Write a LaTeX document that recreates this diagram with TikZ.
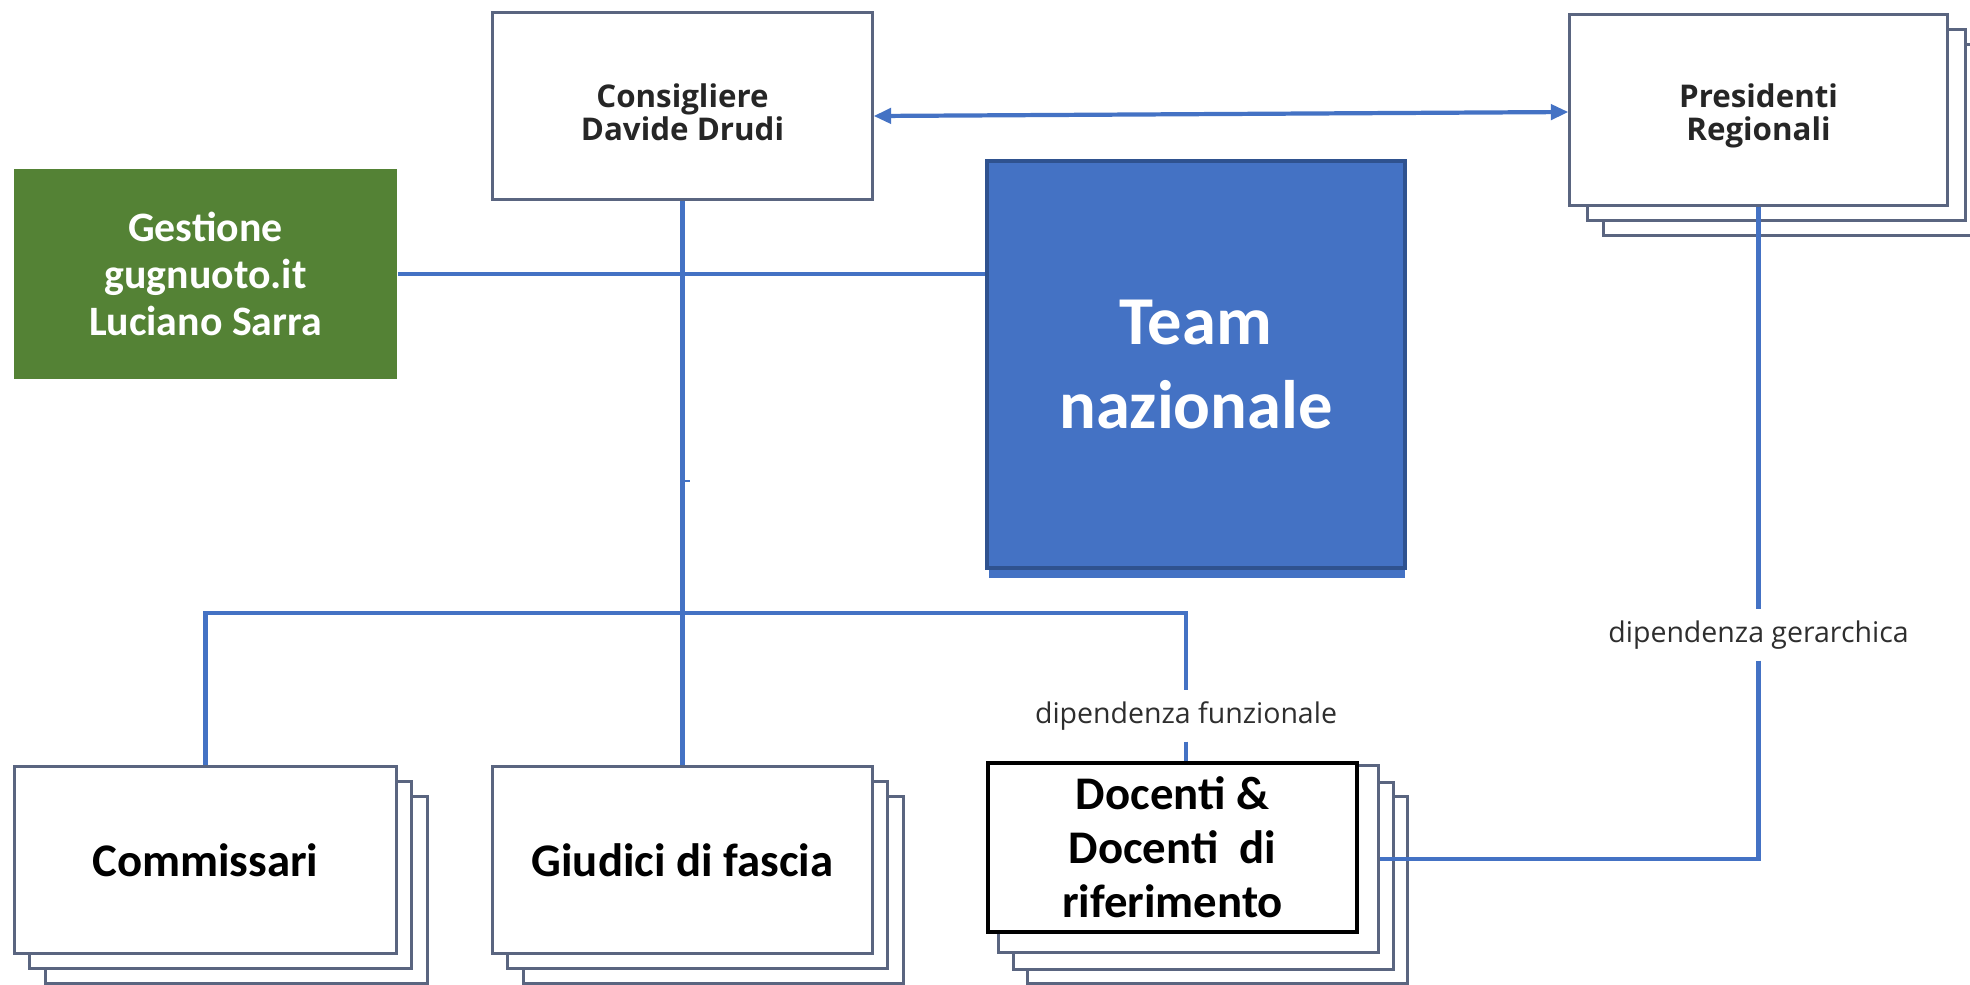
\documentclass[tikz,border=0pt]{standalone}
\usepackage{fontspec}
\setmainfont{Carlito}
\newfontfamily\osans{Open Sans}
\usetikzlibrary{arrows.meta,calc}
\definecolor{linkc}{HTML}{4472C4}
\definecolor{boxc}{HTML}{5A6580}
\definecolor{teamc}{HTML}{4472C4}
\definecolor{teamb}{HTML}{2F528F}
\definecolor{greenc}{HTML}{548235}
\begin{document}
\begin{tikzpicture}[x=0.01cm,y=-0.01cm,
  sheet/.style={draw=boxc,line width=0.85pt,fill=white,inner sep=0pt,minimum width=3.79cm,minimum height=1.86cm},
  link/.style={draw=linkc,line width=1.2pt},
  big/.style={font=\bfseries\fontsize{13.3}{15.4}\selectfont,align=center},
  small/.style={font=\osans\bfseries\fontsize{8.9}{9.4}\selectfont,align=center,text=black!85},
  lab/.style={font=\osans\fontsize{8.1}{9}\selectfont,text=black!82,inner sep=0pt,minimum height=0.5cm}
]
\useasboundingbox[fill=white] (0,0) rectangle (1970,984);

% Consigliere
\node[sheet,small] (cons) at (682.5,106) {\rule{0pt}{10.5pt}Consigliere\\Davide Drudi};

% Presidenti stack
\node[sheet,minimum width=3.77cm,minimum height=1.90cm] (presS3) at (1792.5,140) {};
\node[sheet,minimum width=3.77cm,minimum height=1.90cm] (presS2) at (1776.5,125) {};
\node[sheet,small,minimum width=3.77cm,minimum height=1.90cm] (presF) at (1758.5,110) {\rule{0pt}{10pt}Presidenti\\Regionali};

% Green box
\node[fill=greenc,text=white,inner sep=0pt,minimum width=3.83cm,minimum height=2.10cm,
      font=\bfseries\fontsize{11.9}{13.4}\selectfont,align=center] (green) at (205.5,274)
      {Gestione\\gugnuoto.it\\Luciano Sarra};

% Team nazionale
\fill[teamc] (989,556) rectangle (1405,578);
\node[fill=teamc,draw=teamb,line width=1pt,text=white,inner sep=0pt,minimum width=4.18cm,minimum height=4.07cm,
      font=\bfseries\fontsize{19.5}{23.9}\selectfont,align=center] (team) at (1196,364.5)
      {Team\\nazionale};

% Commissari stack
\node[sheet,minimum width=3.81cm] (commS3) at (236.5,890) {};
\node[sheet,minimum width=3.81cm] (commS2) at (220.5,875) {};
\node[sheet,big,minimum width=3.81cm] (commF) at (205.5,860) {Commissari};

% Giudici stack
\node[sheet] (giudS3) at (713.5,890) {};
\node[sheet] (giudS2) at (697.5,875) {};
\node[sheet,big] (giudF) at (682.5,860) {Giudici di fascia};

% Docenti stack
\node[sheet] (docS3) at (1217.5,890) {};
\node[sheet] (docS2) at (1203.5,876) {};
\node[sheet] (docS1) at (1188.5,859) {};
\node[draw=black,line width=1pt,fill=white,inner sep=0pt,minimum width=3.69cm,minimum height=1.69cm,big]
      (docO) at (1172.5,847.5) {Docenti \&\\Docenti\ \ di\\riferimento};

% labels
\node[lab] (flab) at (1186,716) {dipendenza funzionale};
\node[lab] (glab) at (1758.5,635) {dipendenza gerarchica};

% connectors
\coordinate (busY) at (0,613);
\draw[link] (cons.south) -- (giudF.north);
\draw[link] (green.east) -- (green.east -| team.west);
\draw[link] (commF.north) |- (flab.north |- busY) -- (flab.north);
\draw[link] (flab.south) -- (flab.south |- docO.north);
\draw[link] (presF.south) -- (glab.north);
\draw[link] (glab.south) |- (docS1.east);
\draw[link,{Triangle[length=5pt,width=4.3pt]}-{Triangle[length=5pt,width=4.3pt]}]
  ([yshift=-0.1cm]cons.east) -- ([yshift=-0.02cm]presF.west);
\coordinate (stubA) at (682,481);
\coordinate (stubB) at (690,481);
\draw[linkc,line width=0.6pt] (stubA) -- (stubB);
\end{tikzpicture}
\end{document}
